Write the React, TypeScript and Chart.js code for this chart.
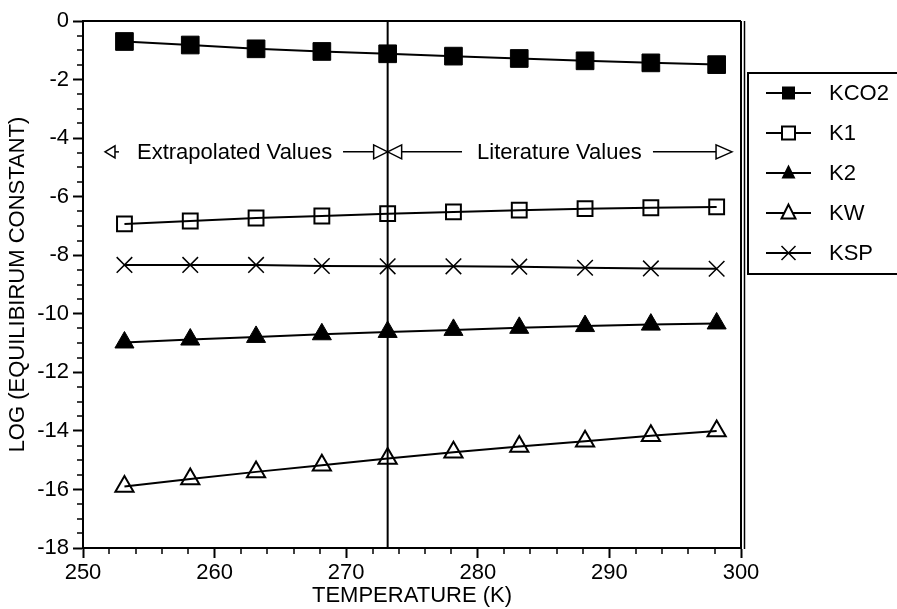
import React, { useEffect, useRef } from "react";
import { Chart, registerables } from "chart.js";

Chart.register(...registerables);

// ---- data ----
const TEMPS = [253.15, 258.15, 263.15, 268.15, 273.15, 278.15, 283.15, 288.15, 293.15, 298.15];
const KCO2 = [-0.7, -0.82, -0.95, -1.04, -1.12, -1.2, -1.28, -1.36, -1.43, -1.49];
const K1 = [-6.93, -6.83, -6.73, -6.66, -6.58, -6.52, -6.46, -6.41, -6.38, -6.35];
const K2 = [-10.98, -10.88, -10.79, -10.7, -10.62, -10.55, -10.48, -10.42, -10.37, -10.33];
const KW = [-15.9, -15.64, -15.4, -15.17, -14.94, -14.73, -14.53, -14.35, -14.17, -14.0];
const KSP = [-8.33, -8.33, -8.33, -8.37, -8.38, -8.38, -8.39, -8.43, -8.45, -8.46];
const SERIES_NAMES = ["KCO2", "K1", "K2", "KW", "KSP"];
const X_TICKS = [250, 260, 270, 280, 290, 300];
const Y_TICKS = [0, -2, -4, -6, -8, -10, -12, -14, -16, -18];
const DIVIDER_T = 273.15;
const LEFT_NOTE = "Extrapolated Values";
const RIGHT_NOTE = "Literature Values";
const X_TITLE = "TEMPERATURE (K)";
const Y_TITLE = "LOG (EQUILIBIRUM CONSTANT)";

const FONT = '"Liberation Sans", Arial, Helvetica, sans-serif';
const FS = 22;

type Style = "rect" | "triangle" | "crossRot";
const MARKERS: { style: Style; filled: boolean; r: number; lg: number }[] = [
  { style: "rect", filled: true, r: 12.5, lg: 13 },
  { style: "rect", filled: false, r: 10.5, lg: 13 },
  { style: "triangle", filled: true, r: 11, lg: 14 },
  { style: "triangle", filled: false, r: 10.5, lg: 14 },
  { style: "crossRot", filled: false, r: 11, lg: 14 },
];

function drawLegendMarker(ctx: CanvasRenderingContext2D, style: Style, filled: boolean, x: number, y: number, s: number) {
  ctx.beginPath();
  if (style === "rect") {
    ctx.rect(x - s / 2, y - s / 2, s, s);
  } else if (style === "triangle") {
    ctx.moveTo(x, y - s * 0.6);
    ctx.lineTo(x + s / 2, y + s * 0.4);
    ctx.lineTo(x - s / 2, y + s * 0.4);
    ctx.closePath();
  } else {
    ctx.moveTo(x - s / 2, y - s / 2);
    ctx.lineTo(x + s / 2, y + s / 2);
    ctx.moveTo(x + s / 2, y - s / 2);
    ctx.lineTo(x - s / 2, y + s / 2);
  }
  if (filled) {
    ctx.fillStyle = "#000";
    ctx.fill();
  } else {
    ctx.fillStyle = "#fff";
    if (style !== "crossRot") ctx.fill();
    ctx.lineWidth = style === "crossRot" ? 1.5 : 2;
    ctx.stroke();
  }
}

function arrowHead(ctx: CanvasRenderingContext2D, tipX: number, y: number, dir: number, len: number, half: number) {
  ctx.beginPath();
  ctx.moveTo(tipX, y);
  ctx.lineTo(tipX - dir * len, y - half);
  ctx.lineTo(tipX - dir * len, y + half);
  ctx.closePath();
  ctx.fillStyle = "#fff";
  ctx.fill();
  ctx.stroke();
}

const overlayPlugin = {
  id: "overlay",
  beforeDatasetsDraw(chart: any) {
    const { ctx, chartArea, scales } = chart;
    const vx = scales.x.getPixelForValue(DIVIDER_T);
    ctx.save();
    ctx.strokeStyle = "#000";
    ctx.lineWidth = 2;
    ctx.beginPath();
    ctx.moveTo(vx, chartArea.top);
    ctx.lineTo(vx, chartArea.bottom);
    ctx.stroke();
    ctx.restore();
  },
  afterDraw(chart: any) {
    const { ctx, chartArea, scales } = chart;
    const { left, right, top, bottom } = chartArea;
    const xs = scales.x;
    const ys = scales.y;
    ctx.save();
    ctx.strokeStyle = "#000";
    ctx.lineWidth = 2;
    // frame top + right (double)
    ctx.beginPath();
    ctx.moveTo(left, top);
    ctx.lineTo(right, top);
    ctx.moveTo(right, top);
    ctx.lineTo(right, bottom);
    ctx.stroke();
    ctx.lineWidth = 1.5;
    ctx.beginPath();
    ctx.moveTo(right + 3.5, top);
    ctx.lineTo(right + 3.5, bottom + 1);
    ctx.stroke();
    // minor ticks
    ctx.lineWidth = 1.5;
    ctx.beginPath();
    for (let v = 252; v < 300; v += 2) {
      if (v % 10 === 0) continue;
      const px = Math.round(xs.getPixelForValue(v));
      ctx.moveTo(px, bottom);
      ctx.lineTo(px, bottom + 6);
    }
    for (let v = -0.5; v > -18; v -= 0.5) {
      if (Math.abs(v % 2) < 1e-9) continue;
      const py = Math.round(ys.getPixelForValue(v));
      ctx.moveTo(left, py);
      ctx.lineTo(left - 6, py);
    }
    ctx.stroke();

    // annotation row
    const ay = ys.getPixelForValue(-4.47);
    const cx = xs.getPixelForValue(DIVIDER_T);
    ctx.lineWidth = 1.5;
    ctx.font = `${FS}px ${FONT}`;
    ctx.fillStyle = "#000";
    ctx.textBaseline = "middle";
    ctx.textAlign = "left";
    // left arrow
    const lt = xs.getPixelForValue(251.67);
    ctx.beginPath();
    ctx.moveTo(lt + 9, ay);
    ctx.lineTo(lt + 14, ay);
    ctx.stroke();
    arrowHead(ctx, lt, ay, -1, 10, 6);
    ctx.fillStyle = "#000";
    ctx.fillText(LEFT_NOTE, xs.getPixelForValue(254.1), ay + 1);
    // line to centre
    ctx.beginPath();
    ctx.moveTo(xs.getPixelForValue(269.76), ay);
    ctx.lineTo(cx - 14, ay);
    ctx.moveTo(cx + 14, ay);
    ctx.lineTo(xs.getPixelForValue(278.8), ay);
    ctx.stroke();
    arrowHead(ctx, cx, ay, 1, 14, 7);
    arrowHead(ctx, cx, ay, -1, 14, 7);
    ctx.fillStyle = "#000";
    ctx.fillText(RIGHT_NOTE, xs.getPixelForValue(279.94), ay + 1);
    const rt = xs.getPixelForValue(299.32);
    ctx.beginPath();
    ctx.moveTo(xs.getPixelForValue(293.31), ay);
    ctx.lineTo(rt - 16, ay);
    ctx.stroke();
    arrowHead(ctx, rt, ay, 1, 16, 7);

    // legend
    const bx = 748;
    const by = 73;
    const bh = 201;
    ctx.lineWidth = 2;
    ctx.strokeStyle = "#000";
    ctx.strokeRect(bx, by, 200, bh);
    SERIES_NAMES.forEach((name, i) => {
      const yy = by + 20 + i * 40;
      ctx.lineWidth = 2;
      ctx.beginPath();
      ctx.moveTo(766, yy);
      ctx.lineTo(811, yy);
      ctx.stroke();
      const m = MARKERS[i];
      drawLegendMarker(ctx, m.style, m.filled, 788.5, yy, m.lg);
      ctx.fillStyle = "#000";
      ctx.textAlign = "left";
      ctx.textBaseline = "middle";
      ctx.font = `${FS}px ${FONT}`;
      ctx.fillText(name, 829, yy + 1);
    });
    ctx.restore();
  },
};

export default function App() {
  const ref = useRef<HTMLCanvasElement | null>(null);
  useEffect(() => {
    if (!ref.current) return;
    const seriesVals = [KCO2, K1, K2, KW, KSP];
    const datasets = SERIES_NAMES.map((name, i) => {
      const m = MARKERS[i];
      return {
        label: name,
        data: TEMPS.map((t, j) => ({ x: t, y: seriesVals[i][j] })),
        borderColor: "#000",
        borderWidth: 2,
        pointStyle: m.style,
        pointRadius: m.r,
        pointHoverRadius: m.r,
        pointBackgroundColor: m.filled ? "#000" : "rgba(0,0,0,0)",
        pointBorderColor: "#000",
        pointBorderWidth: m.filled ? 1 : m.style === "crossRot" ? 1.5 : 2,
        tension: 0,
        fill: false,
      };
    });
    const tickFont = { family: FONT, size: FS };
    const chart = new Chart(ref.current, {
      type: "line",
      data: { datasets },
      options: {
        animation: false,
        responsive: false,
        devicePixelRatio: 1,
        layout: { padding: { top: 21, right: 156, left: 0, bottom: 0 } },
        plugins: { legend: { display: false }, tooltip: { enabled: false } },
        scales: {
          x: {
            type: "linear",
            min: 250,
            max: 300,
            afterBuildTicks: (s: any) => {
              s.ticks = X_TICKS.map((v) => ({ value: v }));
            },
            ticks: { color: "#000", font: tickFont, padding: 2, maxRotation: 0, callback: (v: any) => String(v) },
            grid: { drawOnChartArea: false, drawTicks: true, tickLength: 10, tickColor: "#000", tickWidth: 2, color: "#000" },
            border: { display: true, color: "#000", width: 2 },
            title: { display: true, text: X_TITLE, color: "#000", font: tickFont, padding: { top: 0, bottom: 0 } },
            afterFit: (s: any) => {
              s.height = 61;
            },
          },
          y: {
            type: "linear",
            min: -18,
            max: 0,
            afterBuildTicks: (s: any) => {
              s.ticks = Y_TICKS.map((v) => ({ value: v }));
            },
            ticks: { color: "#000", font: tickFont, padding: 4, callback: (v: any) => String(v) },
            grid: { drawOnChartArea: false, drawTicks: true, tickLength: 10, tickColor: "#000", tickWidth: 2, color: "#000" },
            border: { display: true, color: "#000", width: 2 },
            title: { display: true, text: Y_TITLE, color: "#000", font: tickFont, padding: { top: 5, bottom: 2 } },
            afterFit: (s: any) => {
              s.width = 83;
            },
          },
        },
      } as any,
      plugins: [overlayPlugin],
    });
    return () => chart.destroy();
  }, []);
  return (
    <div style={{ position: "absolute", left: 0, top: 0, width: 897, height: 609, background: "#fff" }}>
      <canvas ref={ref} width={897} height={609} style={{ display: "block" }} />
    </div>
  );
}
